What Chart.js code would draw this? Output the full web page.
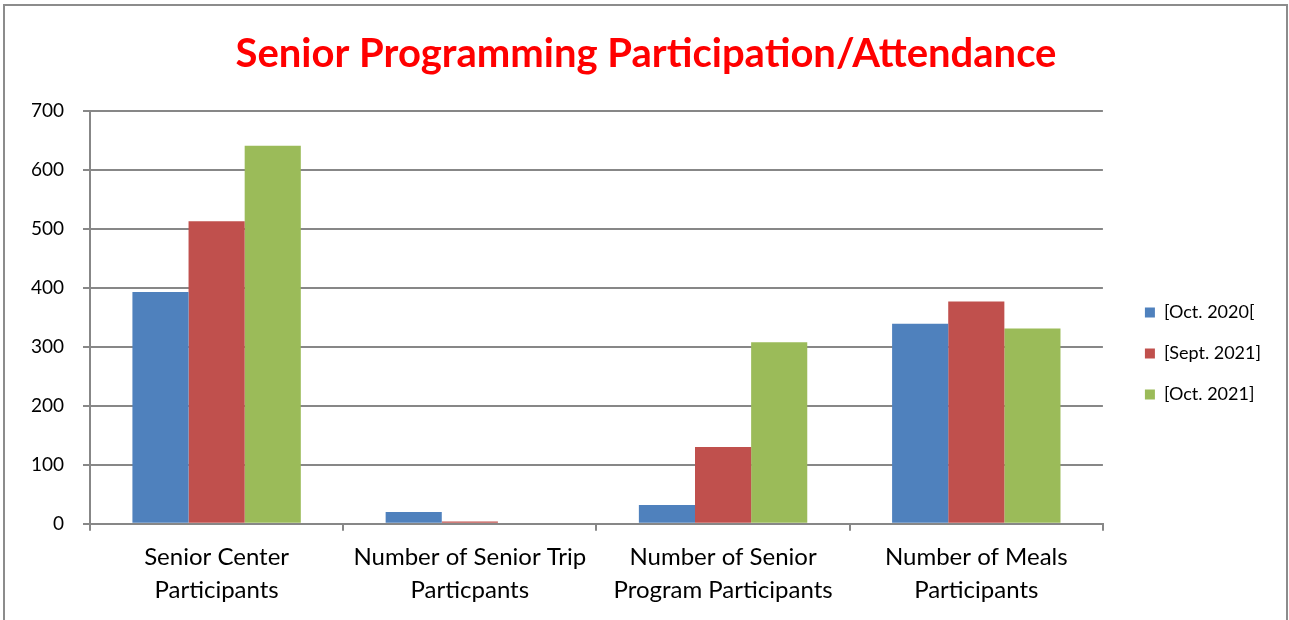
<!DOCTYPE html>
<html>
<head>
<meta charset="utf-8">
<script src="https://cdn.jsdelivr.net/npm/chart.js@4"></script>
<style>
  html, body { margin: 0; padding: 0; background: #fff; overflow: hidden; }
  #frame {
    position: absolute; left: 3px; top: 4px; width: 1281px; height: 640px;
    border: 2px solid #8c8c8c;
  }
  #wrap { position: absolute; left: 0; top: 0; width: 1289px; height: 620px; }
</style>
</head>
<body>
<div id="frame"></div>
<div id="wrap"><canvas id="chart"></canvas></div>
<script>
'use strict';

const categories = [
    ['Senior Center', 'Participants'],
    ['Number of Senior Trip', 'Particpants'],
    ['Number of Senior', 'Program Participants'],
    ['Number of Meals', 'Participants']
];
const seriesNames = ['[Oct. 2020[', '[Sept. 2021]', '[Oct. 2021]'];
const oct2020 = [393, 20, 32, 339];
const sept2021 = [513, 4, 130, 377];
const oct2021 = [641, 0, 308, 331];
const colors = ['#4F81BD', '#C0504D', '#9BBB59'];

const font = 'Lato, "Open Sans", sans-serif';
const gridColor = '#878787';

// nudge legend and title boxes to where the original has them
const boxShift = {
    id: 'boxShift',
    afterLayout(chart) {
        const lg = chart.legend;
        lg.left += 19; lg.right += 19;
        lg.top += 32; lg.bottom += 32;
        const t = chart.titleBlock;
        t.left += 10; t.right += 10;
        t.top += 4; t.bottom += 4;
    }
};

const ctx = document.getElementById('chart');
new Chart(ctx, {
    type: 'bar',
    data: {
        labels: categories,
        datasets: [oct2020, sept2021, oct2021].map((vals, i) => ({
            label: seriesNames[i],
            data: vals,
            backgroundColor: colors[i],
            borderWidth: 0,
            categoryPercentage: 0.665,
            barPercentage: 1
        }))
    },
    options: {
        responsive: true,
        maintainAspectRatio: false,
        animation: false,
        layout: { padding: { left: 20, right: 37, top: 26, bottom: 3 } },
        plugins: {
            title: {
                display: true,
                text: 'Senior Programming Participation/Attendance',
                color: '#FF0000',
                font: { family: font, size: 40, weight: 'bold' },
                padding: { top: 0, bottom: 37 }
            },
            legend: {
                position: 'right',
                labels: {
                    boxWidth: 10,
                    boxHeight: 10,
                    padding: 23,
                    color: '#000',
                    font: { family: font, size: 18 }
                }
            },
            tooltip: { enabled: false }
        },
        scales: {
            x: {
                grid: {
                    offset: true,
                    drawOnChartArea: false,
                    color: gridColor,
                    lineWidth: 2,
                    tickLength: 7
                },
                border: { color: gridColor, width: 2 },
                ticks: {
                    color: '#000',
                    font: { family: font, size: 24, lineHeight: 1.38 },
                    maxRotation: 0,
                    padding: 10
                }
            },
            y: {
                min: 0,
                max: 700,
                ticks: {
                    stepSize: 100,
                    color: '#000',
                    font: { family: font, size: 19 },
                    padding: 19
                },
                grid: { color: gridColor, lineWidth: 2, tickLength: 7 },
                border: { color: gridColor, width: 2 },
                afterFit: (scale) => { scale.width = 70; }
            }
        }
    },
    plugins: [boxShift]
});
</script>
</body>
</html>
